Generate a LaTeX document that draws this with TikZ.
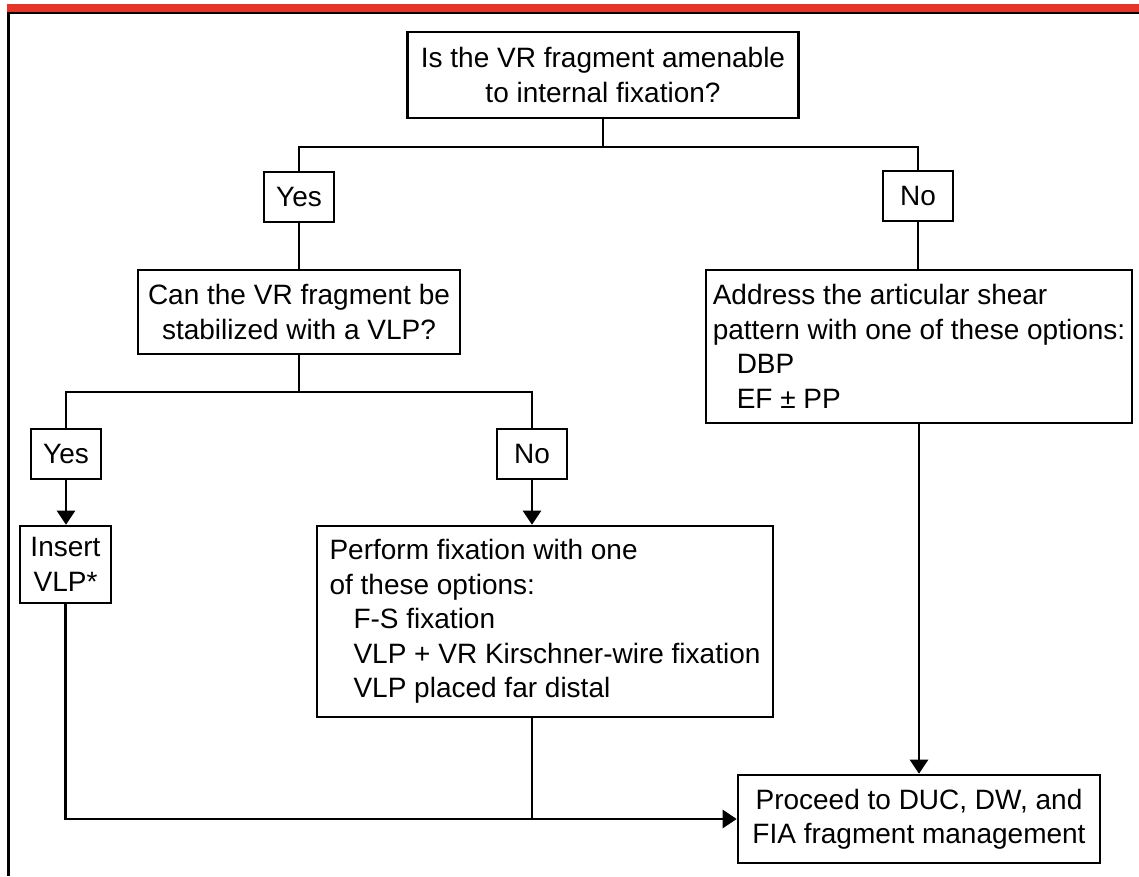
\documentclass[tikz,border=0pt]{standalone}
\usepackage{fontspec}
\setmainfont{Liberation Sans}
\usetikzlibrary{arrows.meta}
\definecolor{barred}{RGB}{229,52,40}

\begin{document}
\begin{tikzpicture}[x=1pt, y=-1pt,
    every node/.style={font=\fontsize{28}{34.5}\selectfont},
    box/.style={draw, line width=2.6pt, inner sep=0pt, align=center},
    optbox/.style={draw, line width=2.6pt, inner sep=0pt, align=left},
    answer/.style={box, minimum width=70pt, minimum height=50pt},
    link/.style={line width=2.6pt},
    arrow/.style={link, -{Triangle[width=18pt,length=14pt]}}]
    \useasboundingbox (0,0) rectangle (1139,876);
    % frame
    \fill[barred] (7,4) rectangle (1139,11.5);
    \draw[line width=2pt] (7,12.5) -- (1139,12.5);
    \draw[line width=3pt] (8,11.5) -- (8,876);

    % questions and answers
    \node[box, minimum width=391pt, minimum height=86pt] (amenable) at (603,75) {Is the VR fragment amenable\\to internal fixation?};
    \node[answer] (yes1) at (299,197) {Yes};
    \node[answer] (no1) at (918,196) {No};
    \node[box, minimum width=322pt, minimum height=84pt] (stable) at (299,312) {Can the VR fragment be\\stabilized with a VLP?};
    \node[optbox, minimum width=426pt, minimum height=153pt] (address) at (919,346.5) {Address the articular shear\\pattern with one of these options:\\\hspace*{24pt}DBP\\\hspace*{24pt}EF ± PP};
    \node[answer] (yes2) at (66,454) {Yes};
    \node[answer] (no2) at (532,454) {No};
    \node[box, minimum width=91pt, minimum height=77pt] (insert) at (65.5,564.5) {Insert\\VLP*};
    \node[optbox, minimum width=456pt, minimum height=191pt] (perform) at (545,621.5) {Perform fixation with one\\of these options:\\\hspace*{24pt}F-S fixation\\\hspace*{24pt}VLP + VR Kirschner-wire fixation\\\hspace*{24pt}VLP placed far distal};
    \node[box, minimum width=362pt, minimum height=88pt] (proceed) at (919,819) {Proceed to DUC, DW, and\\FIA fragment management};

    % branches
    \coordinate (fork1) at (603,147);
    \coordinate (fork2) at (299,392);
    \coordinate (join) at (532,819);
    \draw[link] (amenable.south) -- (fork1);
    \draw[link] (yes1.north) |- (fork1) -| (no1.north);
    \draw[link] (yes1) -- (stable);
    \draw[link] (no1.south) -- (no1.south |- address.north);
    \draw[link] (stable.south) -- (fork2);
    \draw[link] (yes2.north) |- (fork2) -| (no2.north);
    \draw[arrow] (yes2.south) -- (yes2.south |- insert.north);
    \draw[arrow] (no2.south) -- (no2.south |- perform.north);
    \draw[arrow] (address.south) -- (proceed.north);
    \draw[arrow] (insert.south) |- (proceed.west);
    \draw[link] (perform.south -| join) -- (join);
\end{tikzpicture}
\end{document}
